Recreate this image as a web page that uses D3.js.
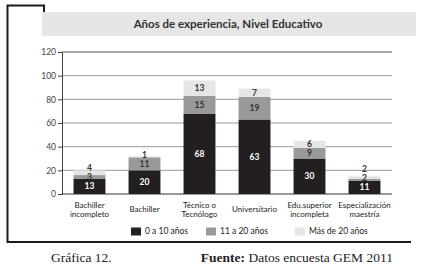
<!DOCTYPE html>
<html lang="es">
<head>
<meta charset="UTF-8">
<title>Años de experiencia, Nivel Educativo</title>
<script src="https://cdn.jsdelivr.net/npm/d3@7/dist/d3.min.js"></script>
<style>
    body { margin: 0; background: #fff; }
    svg { display: block; font-family: Lato, "Open Sans", sans-serif; }
</style>
</head>
<body>
<div id="chart"></div>
<script>
    // data
    var categories = [["Bachiller", "incompleto"], ["Bachiller"], ["Técnico o", "Tecnólogo"],
                      ["Universitario"], ["Edu.superior", "incompleta"], ["Especialización", "maestría"]];
    var series = ["0 a 10 años", "11 a 20 años", "Más de 20 años"];
    var years0to10 = [13, 20, 68, 63, 30, 11];
    var years11to20 = [3, 11, 15, 19, 9, 2];
    var yearsOver20 = [4, 1, 13, 7, 6, 2];
    var yTicks = [0, 20, 40, 60, 80, 100, 120];

    var colors = ["#231f20", "#999999", "#e6e6e6"];
    var labelColors = ["#ffffff", "#333333", "#333333"];

    var W = 424, H = 265;
    var plot = { left: 62, right: 392, top: 52, bottom: 194 };

    var svg = d3.select("#chart").append("svg")
        .attr("width", W)
        .attr("height", H);

    // frame and title band
    svg.append("rect")
        .attr("x", 42).attr("y", 12)
        .attr("width", 374).attr("height", 24)
        .attr("fill", "#e6e6e6");

    svg.append("path")
        .attr("d", "M44,12 V5.5 H7.5 V242 H411")
        .attr("fill", "none")
        .attr("stroke", "#1a1a1a")
        .attr("stroke-width", 2);

    svg.append("text")
        .attr("x", 228).attr("y", 28)
        .attr("text-anchor", "middle")
        .attr("font-size", "11.5px")
        .attr("font-weight", "bold")
        .attr("fill", "#333")
        .text("Años de experiencia, Nivel Educativo");

    var x = d3.scaleBand()
        .domain(d3.range(categories.length))
        .range([plot.left, plot.right])
        .paddingInner(0.42)
        .paddingOuter(0.21);

    var y = d3.scaleLinear()
        .domain([0, 120])
        .range([plot.bottom, plot.top]);

    // grid lines
    svg.append("g")
        .selectAll("line")
        .data(yTicks.filter(d => d > 0))
        .enter()
        .append("line")
        .attr("x1", plot.left).attr("x2", plot.right)
        .attr("y1", d => y(d)).attr("y2", d => y(d))
        .attr("stroke", d => d === 120 ? "#555" : "#999")
        .attr("stroke-width", 1);

    // y axis
    var yAxis = svg.append("g")
        .attr("transform", `translate(${plot.left},0)`)
        .call(d3.axisLeft(y).tickValues(yTicks).tickSize(4).tickPadding(2));
    yAxis.select(".domain").attr("stroke", "#444");
    yAxis.selectAll(".tick line").attr("stroke", "#444");
    yAxis.selectAll("text")
        .attr("font-family", "Lato, sans-serif")
        .attr("font-size", "8.5px")
        .attr("fill", "#444");

    // stacked bars
    var rows = categories.map((c, i) => ({ i: i, values: [years0to10[i], years11to20[i], yearsOver20[i]] }));
    var stack = d3.stack().keys([0, 1, 2]).value((d, k) => d.values[k]);
    var layers = stack(rows);

    layers.forEach(function(layer, k) {
        svg.append("g")
            .selectAll("rect")
            .data(layer)
            .enter()
            .append("rect")
            .attr("x", d => x(d.data.i))
            .attr("y", d => y(d[1]))
            .attr("width", x.bandwidth())
            .attr("height", d => y(d[0]) - y(d[1]))
            .attr("fill", colors[k]);
    });

    // baseline
    svg.append("line")
        .attr("x1", plot.left).attr("x2", plot.right)
        .attr("y1", y(0)).attr("y2", y(0))
        .attr("stroke", "#333")
        .attr("stroke-width", 1.2);

    // value labels, pushed up when segments are too thin
    rows.forEach(function(row) {
        var prev = null;
        layers.forEach(function(layer, k) {
            var seg = layer[row.i];
            var cy = y((seg[0] + seg[1]) / 2);
            if (prev !== null) cy = Math.min(cy, prev - 9);
            prev = cy;
            svg.append("text")
                .attr("x", x(row.i) + x.bandwidth() / 2)
                .attr("y", cy)
                .attr("dy", "0.35em")
                .attr("text-anchor", "middle")
                .attr("font-size", "8.5px")
                .attr("font-weight", "bold")
                .attr("fill", labelColors[k])
                .text(row.values[k]);
        });
    });

    // category labels
    categories.forEach(function(lines, i) {
        var t = svg.append("text")
            .attr("text-anchor", "middle")
            .attr("font-size", "8px")
            .attr("fill", "#222");
        var y0 = lines.length === 1 ? 209.5 : 204.7;
        lines.forEach(function(line, j) {
            t.append("tspan")
                .attr("x", x(i) + x.bandwidth() / 2)
                .attr("y", y0 + j * 9.5)
                .attr("dy", "0.35em")
                .text(line);
        });
    });

    // legend
    var legendX = [131, 206, 295];
    series.forEach(function(s, k) {
        svg.append("rect")
            .attr("x", legendX[k]).attr("y", 227.5)
            .attr("width", 10).attr("height", 8)
            .attr("fill", colors[k]);
        svg.append("text")
            .attr("x", legendX[k] + 14).attr("y", 231.5)
            .attr("dy", "0.35em")
            .attr("font-size", "8.5px")
            .attr("fill", "#222")
            .text(s);
    });

    // footer
    svg.append("text")
        .attr("x", 51).attr("y", 262)
        .attr("font-family", "'Liberation Serif', serif")
        .attr("font-size", "13.5px")
        .attr("fill", "#222")
        .text("Gráfica 12.");

    var src = svg.append("text")
        .attr("x", 393).attr("y", 262)
        .attr("text-anchor", "end")
        .attr("font-family", "'Liberation Serif', serif")
        .attr("font-size", "13.5px")
        .attr("fill", "#222");
    src.append("tspan").attr("font-weight", "bold").text("Fuente: ");
    src.append("tspan").text("Datos encuesta GEM 2011");
</script>
</body>
</html>
